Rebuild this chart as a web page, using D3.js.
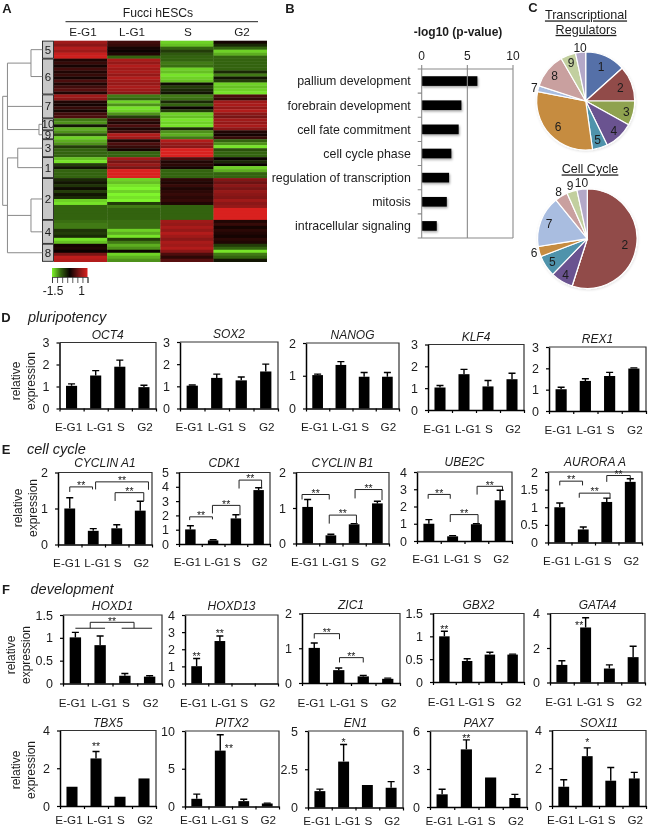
<!DOCTYPE html>
<html><head><meta charset="utf-8">
<style>
html,body{margin:0;padding:0;background:#fff}
svg{display:block;filter:blur(.4px)}
text{font-family:"Liberation Sans",Arial,sans-serif;fill:#1c1c1c}
</style>
<script src="https://cdn.jsdelivr.net/npm/d3@7/dist/d3.min.js"></script>
</head><body><svg id="c" width="649" height="828"></svg>
<script>
/* ---------- Data: heat map ---------- */
const phases = ["E-G1","L-G1","S","G2"];
const heatE = [.7,.6,.8,.7,.9,.95,.1,.2,.05,.25,.1,.2,.05,.3,.1,.25,.35,.1,.7,.6,.1,.05,.2,.05,.25,.3,-.6,-.7,-.1,-.8,-.7,-.4,-.9,-.8,-.7,-.3,-.5,-.5,-.5,-.85,-.95,-.3,-.1,-.5,-.5,-.5,-.2,-.1,-.25,-.05,-.3,-.1,-.2,-.9,-.95,-.5,-.5,-.5,-.5,-.5,-.55,-.6,-.6,-.25,-.3,-.2,-.95,-.85,.05,.1,.0,.5,.85,.8];
const heatL = [.25,.2,.05,.0,.1,-.5,.75,.65,.8,.7,.75,.65,.8,.7,.65,.75,.7,.6,-.6,-.5,-.9,-.7,-.95,-.9,-.7,-.3,.2,.1,.3,.1,.25,.8,.7,.1,.3,.2,.05,-.5,-.5,.7,.5,.65,.5,1,1,1,-.9,-.85,-.95,-1,-.9,-1,-.95,-1,-.3,-.6,-.5,-.5,-.5,-.5,-.55,-.55,-.55,-.9,-.8,-.95,-.3,-.6,-.8,-.7,0,-.9,-.8,-.7];
const heatS = [-.9,-.85,-.5,-.3,-.45,-.5,-.5,-.6,-.55,-.9,-.85,-.95,-.9,-.85,-.05,-.3,-.2,-.1,-.6,-.55,-.2,-.5,0,-.3,-.9,-.85,-.95,-.9,-.95,-.2,-.7,-.8,-.6,.8,.65,.6,1,1,1,.3,.1,.15,.05,-.5,-.5,-.5,.15,.1,.2,.1,.15,.2,.15,.2,.1,-.5,-.5,-.5,-.5,-.5,.7,.65,.75,.65,.8,.7,.6,.75,.7,.8,.6,.3,.15,.35];
const heatG = [.05,-.2,-.5,-.9,-.8,-.5,-.5,-.5,-.5,-.5,-.2,-.6,-.1,-.3,-.9,-.85,-.9,-.95,.3,.2,.7,.75,.65,.8,.6,.5,.7,.65,.75,.6,.1,.05,.2,-.5,-.7,-.95,-.4,-.5,-.5,0,-.2,0,-.9,-.8,-.5,-.5,.55,.45,.6,.5,.65,.6,.55,.7,.6,.65,1,1,1,1,.1,.2,.05,.15,.1,.05,.15,.1,-.3,-.5,-.95,-.6,-.5,-.1];
const clusterLabels = ["5","6","7","10","9","3","1","2","4","8"];
const clusterFirstRow = [0,6,18,26,30,33,39,46,60,68];
const clusterLastRow  = [6,18,26,30,33,39,46,60,68,74];
const dendrogram = {h:1,children:[
  {h:.88,children:[{h:.286,children:[{c:"5"},{c:"6"}]},{c:"7"},{h:.084,children:[{c:"10"},{c:"9"}]}]},
  {h:.88,children:[{h:.62,children:[{c:"3"},{c:"1"}]},{h:.286,children:[{c:"2"},{c:"4"}]},{c:"8"}]}
]};
const legendLabels = ["-1.5","1"];

/* ---------- Data: GO terms ---------- */
const goTerms = ["pallium development","forebrain development","cell fate commitment","cell cycle phase","regulation of transcription","mitosis","intracellular signaling"];
const goValues = [6.1,4.35,4.05,3.25,3,2.75,1.65];
const goTicks = [0,5,10];

/* ---------- Data: pies ---------- */
const pieKeys = ["1","2","3","4","5","6","7","8","9","10"];
const pieColors = ["#5470a8","#914b49","#8fa24f","#6a5290","#4f93ab","#c68c3f","#a9bde0","#c9a09f","#c2cf9f","#b3a8c8"];
const pieRegulators = [48,42,29,35,18,109,7,42,18,12];
const pieCellCycle = [0,197.7,0,26.3,24.8,12,60,15,12,12];

/* ---------- Data: expression bars ---------- */
const genesD = ["OCT4","SOX2","NANOG","KLF4","REX1"];
const meansD = [[1.03,1.5,1.9,.97],[1.03,1.38,1.27,1.67],[1.02,1.33,.97,.97],[1.03,1.64,1.08,1.41],[1.02,1.41,1.64,1.99]];
const topsD  = [[1.12,1.72,2.2,1.06],[1.06,1.55,1.42,2],[1.05,1.43,1.1,1.1],[1.12,1.86,1.35,1.68],[1.11,1.51,1.81,2.02]];
const ticksD = [[0,1,2,3],[0,1,2,3],[0,1,2],[0,1,2,3],[0,1,2,3]];

const genesE = ["CYCLIN A1","CDK1","CYCLIN B1","UBE2C","AURORA A"];
const meansE = [[1,.38,.45,.94],[1.02,.25,1.79,3.77],[1.03,.23,.54,1.13],[1,.27,.97,2.36],[1,.37,1.15,1.72]];
const topsE  = [[1.3,.44,.55,1.2],[1.28,.3,2.05,3.93],[1.24,.26,.56,1.19],[1.24,.31,1,2.94],[1.12,.44,1.26,1.81]];
const ticksE = [[0,1,2],[0,1,2,3,4,5],[0,1,2],[0,1,2,3,4],[0,.5,1,1.5,2]];

const genesF1 = ["HOXD1","HOXD13","ZIC1","GBX2","GATA4"];
const meansF1 = [[1.01,.84,.17,.15],[1.01,2.48,0,0],[1.01,.37,.19,.12],[1,.46,.6,.6],[1.02,3.19,.81,1.47]];
const topsF1  = [[1.12,1.04,.22,.17],[1.46,2.77,0,0],[1.15,.43,.22,.14],[1.11,.51,.65,.61],[1.26,3.75,1.02,2.1]];
const ticksF1 = [[0,.5,1,1.5],[0,1,2,3,4],[0,1,2],[0,.5,1,1.5],[0,2,4]];

const genesF2 = ["TBX5","PITX2","EN1","PAX7","SOX11"];
const meansF2 = [[1.02,2.52,.49,1.46],[1.02,7.4,.71,.4],[1.07,3,1.47,1.29],[1,4.55,2.33,.71],[1.02,2.64,1.34,1.46]];
const topsF2  = [[1.02,2.89,.49,1.46],[1.64,9.5,.97,.45],[1.2,4.12,1.47,1.69],[1.4,5.3,2.33,1],[1.39,3.08,2.04,1.78]];
const ticksF2 = [[0,2,4],[0,5,10],[0,2.5,5],[0,3,6],[0,2,4]];

/* brackets: [from, to, level, left leg end, right leg end, stars] — from/to in category index, levels in axis units */
const brackets = {
 "CYCLIN A1":[[0,.97,1.6,1.46,1.53,"**"],[1.1,3.35,1.74,1.53,1.52,"**"],[1.93,3.15,1.44,1.21,1.21,"**"]],
 "CDK1":[[-.03,.97,1.9,1.67,1.72,"**"],[.97,2.18,2.7,2.14,2.02,"**"],[2.14,3.13,4.47,3.88,3.88,"**"]],
 "CYCLIN B1":[[-.24,.93,1.38,1.24,1.24,"**"],[.93,2.1,.8,.56,.54,"**"],[2.04,3.2,1.52,1.27,1.22,"**"]],
 "UBE2C":[[-.03,.9,2.7,2.45,2.45,"**"],[.9,2.07,1.53,1.1,1,"**"],[2.03,3.1,3.17,2.69,2.94,"**"]],
 "AURORA A":[[0,.97,1.74,1.62,1.62,"**"],[.83,2.14,1.4,1.27,1.24,"**"],[2,3,1.9,1.72,1.78,"**"]],
 "HOXD1":[[0,1.2,1.21,1.21,1.21,""],[1.87,3.1,1.21,1.21,1.21,""],[.6,2.37,1.34,1.21,1.21,"**"]],
 "ZIC1":[[0,1.03,1.42,1.28,1.26,"**"],[1.03,2,.73,.59,.59,"**"]]
};
/* lone marks: [category index, level, stars] */
const starMarks = {
 "HOXD13":[[0,1.76,"**"],[1,3.06,"**"]],
 "GBX2":[[0,1.22,"**"]],
 "GATA4":[[.73,3.48,"**"]],
 "TBX5":[[1,3.3,"**"]],
 "PITX2":[[1.37,8.05,"**"]],
 "EN1":[[1,4.43,"*"]],
 "PAX7":[[1,5.63,"**"]],
 "SOX11":[[1,3.49,"*"]]
};

/* ---------- Layout (separate from the data) ---------- */
const framesD  = [[59.5,156,342.5,408.5],[180,278,342,408.5],[306,399,343,408.5],[428,524,344.5,410],[549,646,347,411]];
const framesE  = [[58,152,472.5,544.5],[179,270,472.5,544],[296,389,472.5,543.5],[417,512,472,541],[548,642,472,542.5]];
const framesF1 = [[63,162,615,683.5],[185,278,615,683.5],[302,400,613.5,683],[433,524,613.5,682],[550,645,613.5,682.5]];
const framesF2 = [[60,156,730.5,806],[185,279,731,806.5],[308,403,731,807.5],[430,527,731,807],[552,646,730.5,806]];
const labelShift = [-3,4,1,1];

const svg = d3.select("#c");
const defs = svg.append("defs");
const shadow = defs.append("filter").attr("id","soft").attr("x","-10%").attr("y","-20%").attr("width","130%").attr("height","160%");
shadow.append("feDropShadow").attr("dx",1).attr("dy",1.5).attr("stdDeviation",1).attr("flood-color","#000").attr("flood-opacity",.35);
const pieShadow = defs.append("filter").attr("id","pieSoft").attr("x","-10%").attr("y","-10%").attr("width","120%").attr("height","120%");
pieShadow.append("feDropShadow").attr("dx",.5).attr("dy",1).attr("stdDeviation",.8).attr("flood-color","#000").attr("flood-opacity",.12);

function txt(g,x,y,s,o={}){
  const t=g.append("text").attr("x",x).attr("y",y).attr("dy",".35em").attr("font-size",o.size||12)
    .attr("text-anchor",o.anchor||"middle").text(s);
  if(o.bold)t.attr("font-weight","bold");
  if(o.italic)t.attr("font-style","italic");
  if(o.underline)t.attr("text-decoration","underline");
  return t;
}

/* ---------- Panel letters and section captions ---------- */
[["A",7,8],["B",290,8],["C",533,7],["D",6,317],["E",6,449],["F",6,589]].forEach(d=>txt(svg,d[1],d[2],d[0],{bold:true,size:13}));
txt(svg,28,317,"pluripotency",{italic:true,size:14.5,anchor:"start"});
txt(svg,27,449,"cell cycle",{italic:true,size:14.5,anchor:"start"});
txt(svg,30.5,589,"development",{italic:true,size:14.5,anchor:"start"});

/* ---------- A: heat map ---------- */
const heatColumns=[heatE,heatL,heatS,heatG];
const heatColor=d3.scaleLinear().domain([-1,-.75,-.5,0,.5,1]).range(["#7ff52c","#559c1d","#33630f","#0a0200","#781515","#d9211f"]);
const hx=d3.scaleBand().domain(phases).range([54,266.7]);
const hy=d3.scaleBand().domain(d3.range(heatE.length)).range([40.7,261.7]);
const gA=svg.append("g");
phases.forEach((p,c)=>{
  gA.append("g").selectAll("rect").data(heatColumns[c]).join("rect")
    .attr("x",hx(p)).attr("width",hx.bandwidth()+.3)
    .attr("y",(d,i)=>hy(i)).attr("height",hy.bandwidth()+.3)
    .attr("fill",d=>heatColor(d));
});
const clusterY=l=>{const i=clusterLabels.indexOf(l);return [hy(clusterFirstRow[i]),hy(clusterLastRow[i]-1)+hy.bandwidth()];};
clusterLabels.forEach((l,i)=>{
  const [a,b]=clusterY(l);
  gA.append("rect").attr("x",42.5).attr("width",11).attr("y",a+.4).attr("height",b-a-.8)
    .attr("fill","#c8c8c8").attr("stroke","#222").attr("stroke-width",.9);
  txt(gA,48,(a+b)/2,l,{size:11.5});
});
const dx=d3.scaleLinear().domain([0,1]).range([42.3,2.7]);
const root=d3.hierarchy(dendrogram);
root.eachAfter(n=>{
  if(n.data.c){const[a,b]=clusterY(n.data.c);n.py=(a+b)/2;n.px=dx(0);}
  else{const ys=n.children.map(k=>k.py);n.py=(d3.min(ys)+d3.max(ys))/2;n.px=dx(n.data.h);}
});
const dendroPath=d3.path();
root.each(n=>{
  if(!n.children)return;
  const ys=n.children.map(k=>k.py);
  dendroPath.moveTo(n.px,d3.min(ys));dendroPath.lineTo(n.px,d3.max(ys));
  n.children.forEach(k=>{dendroPath.moveTo(n.px,k.py);dendroPath.lineTo(k.px,k.py);});
});
gA.append("path").attr("d",dendroPath.toString()).attr("fill","none").attr("stroke","#8a8a8a").attr("stroke-width",1);
txt(gA,158,13,"Fucci hESCs",{size:12.2});
gA.append("line").attr("x1",65.5).attr("x2",258).attr("y1",21.7).attr("y2",21.7).attr("stroke","#222");
[83,132,188,242].forEach((x,i)=>txt(gA,x,32,phases[i],{size:11.7}));
/* colour key */
const lg=defs.append("linearGradient").attr("id","key");
const keyScale=d3.scaleLinear().domain([-1.5,1]).range([52,87.5]);
[-1,-.5,0,.5,1].forEach((d,i,a)=>lg.append("stop").attr("offset",i/(a.length-1)).attr("stop-color",heatColor(d)));
gA.append("rect").attr("x",52).attr("y",268).attr("width",35.5).attr("height",9).attr("fill","url(#key)");
const keyAxis=gA.append("g").attr("transform","translate(0,277)")
  .call(d3.axisBottom(keyScale).tickValues(d3.range(8).map(i=>-1.5+i*2.5/7)).tickFormat("").tickSize(6));
keyAxis.selectAll("line").attr("stroke","#333").attr("stroke-width",.8);
keyAxis.select(".domain").attr("stroke","#333").attr("stroke-width",.8);
txt(gA,keyScale(-1.5)+1,291,legendLabels[0],{size:12});
txt(gA,keyScale(1)-6,291,legendLabels[1],{size:12});

/* ---------- B: GO bars ---------- */
const gB=svg.append("g");
const bx=d3.scaleLinear().domain([0,10]).range([421.7,513]);
const by=d3.scaleBand().domain(goTerms).range([69,238]).paddingInner(.6).paddingOuter(.3);
txt(gB,458,32,"-log10 (p-value)",{bold:true,size:12});
gB.append("g").selectAll("rect").data(goTerms).join("rect")
  .attr("x",bx(0)).attr("y",d=>by(d)).attr("width",(d,i)=>bx(goValues[i])-bx(0)).attr("height",by.bandwidth())
  .attr("fill","#000").attr("filter","url(#soft)");
const bGrid=d3.path();
goTicks.forEach(t=>{bGrid.moveTo(bx(t),65);bGrid.lineTo(bx(t),238);});
bGrid.moveTo(bx(0),69);bGrid.lineTo(bx(10),69);
bGrid.moveTo(bx(0),238);bGrid.lineTo(bx(10),238);
const bStep=by.step();
goTerms.concat([""]).forEach((d,i)=>{const y=69+i*bStep;bGrid.moveTo(bx(0)-4,y);bGrid.lineTo(bx(0),y);});
gB.append("path").attr("d",bGrid.toString()).attr("fill","none").attr("stroke","#8a8a8a").attr("stroke-width",1.1);
goTicks.forEach(t=>txt(gB,bx(t),56,t,{size:12}));
goTerms.forEach(d=>txt(gB,410.8,by(d)+by.bandwidth()/2,d,{size:12.4,anchor:"end"}));

/* ---------- C: pies ---------- */
function drawPie(values,cx,cy,r,radii){
  const g=svg.append("g").attr("transform",`translate(${cx},${cy})`);
  const arcs=d3.pie().sort(null)(values);
  const arc=d3.arc().innerRadius(0).outerRadius(r);
  const sl=g.append("g").attr("filter","url(#pieSoft)");
  sl.selectAll("path").data(arcs).join("path").attr("d",arc)
    .attr("fill",(d,i)=>pieColors[i]).attr("stroke","#fff").attr("stroke-width",1.2);
  arcs.forEach((a,i)=>{
    if(!values[i])return;
    const f=radii[i];
    const c=d3.arc().innerRadius(f).outerRadius(f).centroid(a);
    txt(g,c[0],c[1],pieKeys[i],{size:12});
  });
}
txt(svg,586,15,"Transcriptional",{size:12.6,underline:true});
txt(svg,586,29.5,"Regulators",{size:12.6,underline:true});
drawPie(pieRegulators,585.7,101,49,[38,37,42,41,41,38,53,40,41,54]);
txt(svg,590,169,"Cell Cycle",{size:12.6,underline:true});
drawPie(pieCellCycle,587.3,238.7,49.7,[0,38,0,42,42,55,41,55,56,56]);

/* ---------- D, E, F: expression panels ---------- */
function drawRow(genes,means,tops,ticks,frames,labelGap,titleGap,yTitle){
  genes.forEach((gene,k)=>{
    const [l,r,t,b]=frames[k];
    const g=svg.append("g");
    const y=d3.scaleLinear().domain([0,d3.max(ticks[k])]).range([b,t]);
    const x=d3.scaleBand().domain(phases).range([l,r]).paddingInner(.54).paddingOuter(.27);
    const slots=d3.scaleLinear().domain([0,4]).range([l,r]);
    const idx=i=>x(phases[0])+x.bandwidth()/2+i*x.step();
    /* bars */
    g.append("g").selectAll("rect").data(means[k]).join("rect")
      .attr("x",(d,i)=>x(phases[i])).attr("width",x.bandwidth())
      .attr("y",d=>y(d)).attr("height",d=>y(0)-y(d)).attr("fill","#000");
    /* error whiskers */
    const w=d3.path();
    tops[k].forEach((v,i)=>{
      if(v<=means[k][i])return;
      const c=idx(i);
      w.moveTo(c,y(means[k][i]));w.lineTo(c,y(v));
      w.moveTo(c-3.5,y(v));w.lineTo(c+3.5,y(v));
    });
    g.append("path").attr("d",w.toString()).attr("fill","none").attr("stroke","#000").attr("stroke-width",1.4);
    /* frame top + right */
    const fr=d3.path();fr.moveTo(l,t);fr.lineTo(r,t);fr.lineTo(r,b);
    g.append("path").attr("d",fr.toString()).attr("fill","none").attr("stroke","#333").attr("stroke-width",1.2);
    /* axes */
    const ax=g.append("g").attr("transform",`translate(0,${b})`)
      .call(d3.axisBottom(slots).tickValues([0,1,2,3,4]).tickFormat("").tickSize(3).tickSizeOuter(0));
    const ay=g.append("g").attr("transform",`translate(${l},0)`)
      .call(d3.axisLeft(y).tickValues(ticks[k]).tickFormat(d=>String(d)).tickSize(3).tickSizeOuter(0).tickPadding(7));
    [ax,ay].forEach(a=>{a.select(".domain").attr("stroke","#000").attr("stroke-width",1.5);a.selectAll("line").attr("stroke","#000").attr("stroke-width",1.2);});
    ay.selectAll("text").attr("font-size",12.5).attr("font-family",null).style("fill","#1c1c1c");
    /* titles and category labels */
    txt(g,(l+r)/2,t-titleGap,gene,{italic:true,size:12});
    phases.forEach((p,i)=>txt(g,idx(i)+labelShift[i],b+labelGap,p,{size:11.7}));
    /* significance */
    (brackets[gene]||[]).forEach(d=>{
      const p=d3.path(),a=idx(d[0]),c=idx(d[1]);
      p.moveTo(a,y(d[3]));p.lineTo(a,y(d[2]));p.lineTo(c,y(d[2]));p.lineTo(c,y(d[4]));
      g.append("path").attr("d",p.toString()).attr("fill","none").attr("stroke","#222").attr("stroke-width",1);
      if(d[5])txt(g,(a+c)/2,y(d[2])-1.4,d[5],{size:10.5});
    });
    (starMarks[gene]||[]).forEach(d=>txt(g,idx(d[0]),y(d[1])+2.6,d[2],{size:10.5}));
  });
  const yl=svg.append("g").attr("transform",`translate(${yTitle[0]},${yTitle[1]}) rotate(-90)`);
  txt(yl,0,0,"relative",{size:12});
  txt(yl,0,14.5,"expression",{size:12});
}
drawRow(genesD,meansD,topsD,ticksD,framesD,18.5,8,[16,381]);
drawRow(genesE,meansE,topsE,ticksE,framesE,18,10,[18,508]);
drawRow(genesF1,meansF1,topsF1,ticksF1,framesF1,19.5,9,[11,655]);
drawRow(genesF2,meansF2,topsF2,ticksF2,framesF2,13.5,8,[16,770]);
</script></body></html>
